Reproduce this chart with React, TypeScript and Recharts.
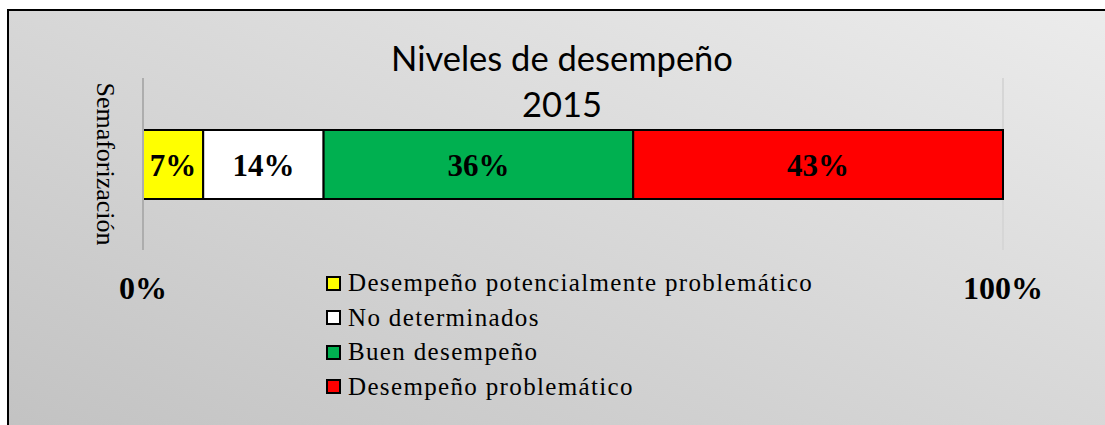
import React from "react";
import {
  BarChart,
  Bar,
  XAxis,
  YAxis,
  CartesianGrid,
  Legend,
  LabelList,
} from "recharts";

const categories = ["Semaforización"];
const seriesNames = [
  "Desempeño potencialmente problemático",
  "No determinados",
  "Buen desempeño",
  "Desempeño problemático",
];
const seriesValues = [0.07, 0.14, 0.36, 0.43];
const seriesColors = ["#ffff00", "#ffffff", "#00b050", "#ff0000"];
const xTicks = [0, 1];
const titleLines = ["Niveles de desempeño", "2015"];

const data = categories.map((name) => {
  const row: Record<string, string | number> = { name };
  seriesValues.forEach((v, i) => {
    row[`s${i}`] = v;
  });
  return row;
});

const serif = "'Liberation Serif', 'Times New Roman', serif";

const pct = (v: any) => `${Math.round(Number(v) * 100)}%`;

const XTick = ({ x, y, payload }: any) => (
  <text
    x={x}
    y={y + 38}
    textAnchor="middle"
    dominantBaseline="central"
    fontFamily={serif}
    fontWeight="bold"
    fontSize={32}
    fill="#000"
  >
    {pct(payload.value)}
  </text>
);

const LegendBox = () => (
  <div style={{ fontFamily: serif, fontSize: 25, letterSpacing: 1.35, color: "#000" }}>
    {seriesNames.map((n, i) => (
      <div
        key={n}
        style={{ display: "flex", alignItems: "center", height: 34.5, whiteSpace: "nowrap" }}
      >
        <span
          style={{
            width: 11,
            height: 11,
            border: "2px solid #000",
            background: seriesColors[i],
            marginRight: 7,
            flexShrink: 0,
          }}
        />
        {n}
      </div>
    ))}
  </div>
);

export default function App() {
  return (
    <div
      style={{
        position: "fixed",
        left: 7,
        top: 9,
        width: 1112,
        height: 430,
        border: "2px solid #000",
        boxSizing: "border-box",
        background: "linear-gradient(to top right, #c2c2c2, #ececec)",
        overflow: "hidden",
      }}
    >
      <div
        style={{
          position: "absolute",
          left: 0,
          width: 1106,
          top: 24,
          textAlign: "center",
          fontFamily: "Lato, 'Open Sans', sans-serif",
          fontSize: 34.5,
          lineHeight: "46px",
          color: "#000",
        }}
      >
        {titleLines.map((t) => (
          <div key={t}>{t}</div>
        ))}
      </div>
      <BarChart
        width={1100}
        height={420}
        data={data}
        layout="vertical"
        margin={{ top: 67, right: 106, bottom: 141, left: 60 }}
        barSize={69}
      >
        <CartesianGrid horizontal={false} vertical stroke="#d6d6d6" strokeWidth={2} />
        <XAxis
          type="number"
          domain={[0, 1]}
          ticks={xTicks}
          axisLine={false}
          tickLine={false}
          tickSize={0}
          tickMargin={0}
          height={40}
          tick={<XTick />}
        />
        <YAxis
          type="category"
          dataKey="name"
          width={74}
          tick={false}
          tickLine={false}
          axisLine={{ stroke: "#adadad", strokeWidth: 2 }}
          label={{
            value: categories[0],
            angle: 90,
            position: "center",
            style: { fontFamily: serif, fontSize: 26, fill: "#000" },
          }}
        />
        <Legend
          layout="vertical"
          align="center"
          verticalAlign="middle"
          wrapperStyle={{ left: 317, top: 255, width: 600 }}
          content={<LegendBox />}
        />
        {seriesNames.map((n, i) => (
          <Bar
            key={n}
            dataKey={`s${i}`}
            name={n}
            stackId="a"
            fill={seriesColors[i]}
            stroke="#000"
            strokeWidth={2}
            isAnimationActive={false}
          >
            <LabelList
              dataKey={`s${i}`}
              position="center"
              formatter={pct}
              fill="#000"
              fontFamily={serif}
              fontWeight="bold"
              fontSize={31}
            />
          </Bar>
        ))}
      </BarChart>
    </div>
  );
}
